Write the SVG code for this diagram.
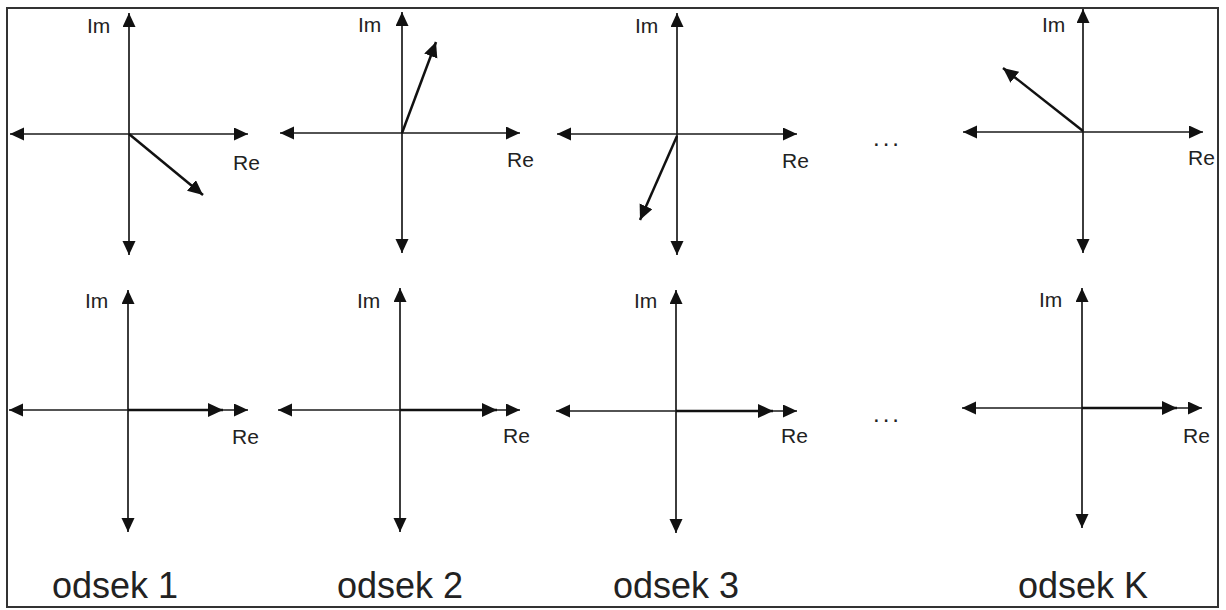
<svg xmlns="http://www.w3.org/2000/svg" width="1226" height="610" viewBox="0 0 1226 610">
<style>
.ax{stroke:#1a1a1a;stroke-width:1.7;fill:none;marker-start:url(#ah);marker-end:url(#ah)}
.ph{stroke:#111;stroke-width:2.5;fill:none;marker-end:url(#ph)}
.lb{font-family:"Liberation Sans",Arial,sans-serif;font-size:21px;fill:#222}
.od{font-family:"Liberation Sans",Arial,sans-serif;font-size:36px;fill:#222}
.dots{font-family:"Liberation Sans",Arial,sans-serif;font-size:24px;fill:#222;letter-spacing:3px}
</style>
<defs>
<marker id="ah" markerUnits="userSpaceOnUse" markerWidth="15" markerHeight="14" refX="14" refY="6.5" orient="auto-start-reverse" viewBox="0 0 15 14">
<path d="M0,0 L14,6.5 L0,13 Z" fill="#111"/>
</marker>
<marker id="ph" markerUnits="userSpaceOnUse" markerWidth="16" markerHeight="15" refX="15" refY="7" orient="auto" viewBox="0 0 16 15">
<path d="M0,0 L15,7 L0,14 Z" fill="#111"/>
</marker>
</defs>
<rect x="0" y="0" width="1226" height="610" fill="#fff"/>
<rect id="frame" x="7" y="8" width="1211" height="599" fill="none" stroke="#333" stroke-width="2"/>

<g id="panel-1-top">
<line class="ax" x1="129" y1="255" x2="129" y2="13"/>
<line class="ax" x1="10" y1="134" x2="248" y2="134"/>
<text class="lb" x="87" y="33">Im</text>
<text class="lb" x="233" y="170">Re</text>
</g>
<g id="panel-2-top">
<line class="ax" x1="402" y1="253" x2="402" y2="12"/>
<line class="ax" x1="280" y1="133" x2="520" y2="133"/>
<text class="lb" x="358" y="32">Im</text>
<text class="lb" x="507" y="167">Re</text>
</g>
<g id="panel-3-top">
<line class="ax" x1="677" y1="255" x2="677" y2="13"/>
<line class="ax" x1="557" y1="134" x2="797" y2="134"/>
<text class="lb" x="635" y="33">Im</text>
<text class="lb" x="782" y="168">Re</text>
</g>
<g id="panel-K-top">
<line class="ax" x1="1083" y1="253" x2="1083" y2="9"/>
<line class="ax" x1="963" y1="132" x2="1203" y2="132"/>
<text class="lb" x="1042" y="32">Im</text>
<text class="lb" x="1188" y="165">Re</text>
</g>
<text id="dots-top" class="dots" x="873" y="146">...</text>

<g id="panel-1-bottom">
<line class="ax" x1="128" y1="532" x2="128" y2="290"/>
<line class="ax" x1="9" y1="410" x2="248" y2="410"/>
<text class="lb" x="85" y="308">Im</text>
<text class="lb" x="232" y="444">Re</text>
<text class="od" x="52" y="598">odsek 1</text>
</g>
<g id="panel-2-bottom">
<line class="ax" x1="400" y1="532" x2="400" y2="288"/>
<line class="ax" x1="278" y1="410" x2="520" y2="410"/>
<text class="lb" x="357" y="308">Im</text>
<text class="lb" x="503" y="443">Re</text>
<text class="od" x="337" y="598">odsek 2</text>
</g>
<g id="panel-3-bottom">
<line class="ax" x1="676" y1="533" x2="676" y2="290"/>
<line class="ax" x1="556" y1="411" x2="797" y2="411"/>
<text class="lb" x="634" y="308">Im</text>
<text class="lb" x="781" y="443">Re</text>
<text class="od" x="613" y="598">odsek 3</text>
</g>
<g id="panel-K-bottom">
<line class="ax" x1="1082" y1="528" x2="1082" y2="288"/>
<line class="ax" x1="962" y1="408" x2="1202" y2="408"/>
<text class="lb" x="1039" y="307">Im</text>
<text class="lb" x="1183" y="443">Re</text>
<text class="od" x="1018" y="598">odsek K</text>
</g>
<text id="dots-bottom" class="dots" x="873" y="422">...</text>

<g id="connectors">
<line class="ph" x1="129" y1="134" x2="203" y2="195"/>
<line class="ph" x1="402" y1="133" x2="436" y2="42"/>
<line class="ph" x1="677" y1="136" x2="640" y2="220"/>
<line class="ph" x1="1083" y1="131" x2="1003" y2="68"/>
<line class="ph" x1="128" y1="410" x2="223" y2="410"/>
<line class="ph" x1="400" y1="410" x2="497" y2="410"/>
<line class="ph" x1="676" y1="411" x2="773" y2="411"/>
<line class="ph" x1="1082" y1="408" x2="1177" y2="408"/>
</g>
</svg>
